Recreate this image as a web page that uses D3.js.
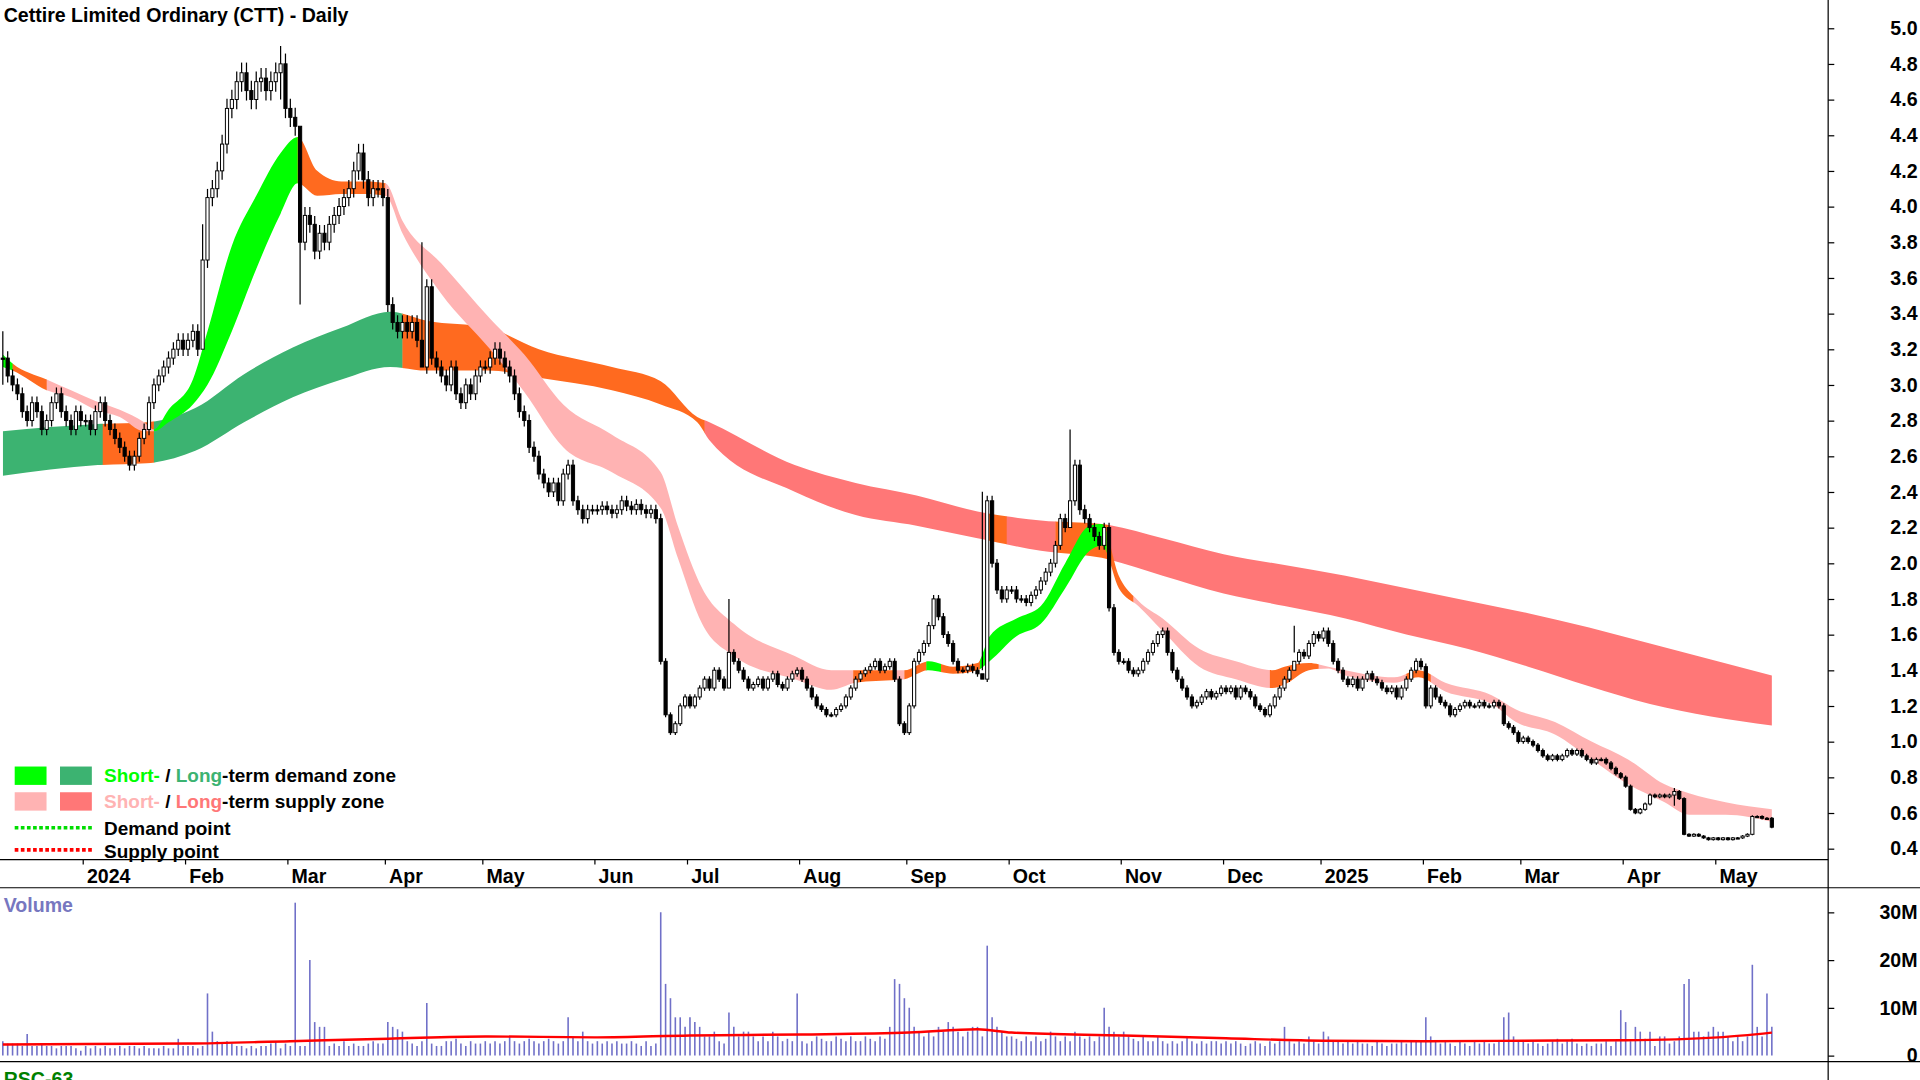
<!DOCTYPE html>
<html><head><meta charset="utf-8">
<script src="https://cdn.jsdelivr.net/npm/d3@7"></script>
<style>html,body{margin:0;padding:0;background:#fff;overflow:hidden}text{font-family:"Liberation Sans",Arial,sans-serif}</style>
</head><body>
<svg id="c" width="1920" height="1080" viewBox="0 0 1568 882"></svg>
<script>
// ---- data ----
const title = "Cettire Limited Ordinary (CTT) - Daily";
const startDate = "2023-12-05";
const holidays = ["2023-12-25","2023-12-26","2024-01-01","2024-01-26","2024-03-29","2024-04-01","2024-04-25","2024-06-10","2024-12-25","2024-12-26","2025-01-01","2025-01-27","2025-04-18","2025-04-21","2025-04-25"];
const monthNames = ["Jan","Feb","Mar","Apr","May","Jun","Jul","Aug","Sep","Oct","Nov","Dec"];
const closes = [
 3.15,3.05,3.0,2.95,2.85,2.8,2.9,2.85,2.75,2.8,2.9,2.95,2.85,2.8,2.75,2.85,2.8,
 2.8,2.75,2.85,2.9,2.8,2.75,2.7,2.65,2.6,2.55,2.6,2.7,2.75,2.9,3.0,3.05,3.1,3.15,3.2,3.25,3.2,
 3.25,3.3,3.2,3.7,4.05,4.1,4.2,4.35,4.55,4.6,4.7,4.75,4.65,4.6,4.7,4.72,4.65,4.7,4.75,4.8,4.55,
 4.5,4.45,3.8,3.95,3.9,3.75,3.85,3.8,3.9,3.95,4.0,4.05,4.1,4.2,4.3,4.15,4.05,4.1,4.1,4.05,
 3.45,3.35,3.3,3.35,3.3,3.35,3.25,3.1,3.55,3.15,3.1,3.05,3.0,3.1,2.95,2.9,3.0,2.95,3.05,3.1,
 3.1,3.15,3.2,3.15,3.1,3.05,2.95,2.85,2.8,2.65,2.6,2.5,2.45,2.4,2.45,2.35,2.5,2.55,2.35,2.3,2.25,2.3,2.3,
 2.3,2.32,2.3,2.28,2.3,2.35,2.32,2.3,2.33,2.3,2.28,2.3,2.25,1.45,1.15,1.05,1.1,1.2,1.25,
 1.2,1.25,1.3,1.35,1.3,1.4,1.35,1.3,1.5,1.45,1.4,1.35,1.3,1.32,1.35,1.3,1.35,1.38,1.32,1.3,1.35,1.38,1.4,
 1.35,1.3,1.25,1.2,1.18,1.15,1.15,1.18,1.2,1.25,1.3,1.35,1.38,1.4,1.42,1.45,1.4,1.42,1.45,1.35,1.1,1.05,
 1.2,1.45,1.5,1.55,1.65,1.8,1.7,1.6,1.55,1.45,1.4,1.4,1.42,1.4,1.38,1.35,2.35,2.0,1.85,1.8,1.85,
 1.85,1.8,1.8,1.78,1.82,1.85,1.9,1.95,2.0,2.1,2.25,2.2,2.35,2.55,2.3,2.25,2.2,2.15,2.1,2.2,1.75,1.5,1.45,
 1.45,1.4,1.38,1.4,1.45,1.5,1.55,1.6,1.62,1.5,1.4,1.35,1.3,1.25,1.2,1.22,1.25,1.28,1.25,1.27,1.3,
 1.28,1.3,1.25,1.3,1.28,1.25,1.2,1.18,1.15,1.2,1.25,1.3,1.35,1.4,1.45,1.5,1.48,1.55,1.6,1.58,
 1.62,1.55,1.45,1.4,1.35,1.32,1.35,1.3,1.35,1.38,1.35,1.33,1.3,1.28,1.3,1.25,1.3,1.35,1.4,1.45,1.42,
 1.2,1.3,1.25,1.22,1.2,1.15,1.18,1.2,1.22,1.2,1.2,1.22,1.2,1.2,1.22,1.2,1.1,1.08,1.05,1.0,
 1.02,1.0,0.98,0.95,0.92,0.9,0.92,0.9,0.92,0.95,0.93,0.95,0.92,0.9,0.88,0.9,0.9,0.88,0.85,0.82,0.8,
 0.75,0.62,0.6,0.62,0.65,0.7,0.69,0.7,0.69,0.7,0.72,0.68,0.48,0.47,0.48,0.47,0.46,0.45,0.46,
 0.45,0.46,0.45,0.46,0.46,0.47,0.48,0.58,0.58,0.57,0.57,0.52];
const wicks = [[0,3.3,3.0],[41,3.9,3.32],[61,4.1,3.45],[57,4.9,4.6],[86,3.8,3.1],[149,1.8,1.3],[201,2.4,1.4],[219,2.75,2.3],[265,1.65,1.5],[343,0.74,0.64]];
const volumes = [
 3,2.5,2.5,2.5,2,4.5,2,2,2.5,2,2,1.5,2,2,2,1.5,1,
 2,1.5,2,1.5,2,1.5,1.5,2,1.5,2,2,1.5,2,1.5,1.5,1.5,2,1.5,1.5,3.5,2,
 2,2,1.5,2,13,5,3,2.5,3,2.5,2,2,1.5,2,1.5,2,2,2.5,3,1.5,2.5,
 2,32,2,2,20,7,6,6,2,2.5,2,3,2,2.5,2,2,2.5,3,2.5,2.5,
 7,6,5.5,5,3,2.5,2,3,11,2.5,2,2,3,3,3.5,2.5,2,3,2.5,2.5,
 3,2.5,3,2.5,3,4,3,2.5,3,3.5,3,2.5,3,3.5,3,2.5,3,8,4,3,5,3,2.5,
 3,2.5,3,2.5,3,2.5,2.5,3,2.5,2,3,2,2.5,30,15,12,8,8,6,
 8,7,6,4,4,5,3,2.5,9,6,4,5,5,4,3,4,3,5,4,3,3.5,3,13,
 3,2.5,3,4,3.5,3,3,4,3.5,3,4,3,3,4,3.5,3,4,3.5,6,16,15,12,
 10,6,5,4,5,4,6,5,7,6,5,4,5,6,6,4,23,8,6,5,4,
 4,3.5,3,4,3,4,3,3.5,5,4,3,4,3,5,4,3.5,4,3,4,10,6,5,4,
 5,4,3.5,3,4,3,3,4,3,2.5,3,2.5,3,4,3,2.5,3,2.5,3,3,2.5,
 3,2.5,3,2.5,2,2.5,3,2.5,2,3,2.5,3,6,3,2.5,3,2.5,4,3,2.5,
 5,4,3,3,2.5,3,2.5,3,2.5,2.5,2,3,2.5,2,2.5,2.5,3,2.5,3,3,3,
 8,4,3,2.5,3,2.5,2,3,2.5,2,3,2.5,3,2.5,2.5,3,8,9,4,3,
 3,2.5,3,2.5,2,2.5,3,3.5,2.5,3,3.5,2.5,2,2.5,2,2.5,2.5,3,2,3,9.5,
 7,3,6,5,3.5,5,2,4,4,2.5,3,4,15,16,5,5,4,5,6,
 5,5,4,3,4,3,4,19,6,4,13,6];
const volMA = [[0,2.3],[17,2.4],[38,2.5],[59,3.0],[79,3.5],[99,4.0],[122,3.8],[141,4.2],[164,4.4],[186,4.8],[200,5.5],[207,4.8],[230,4.2],[251,3.6],[271,3.1],[292,3.0],[312,3.1],[333,3.2],[352,3.8],[363,4.8]];
const shortZone = [[0,3.17,3.10],[2,3.12,3.08],[9,3.03,2.97],[14,2.97,2.93],[19,2.91,2.86],[24,2.86,2.82],[29,2.79,2.74],[31,2.75,2.74],[34,2.86,2.79],[39,3.03,2.89],[42,3.30,3.00],[47,3.78,3.30],[52,4.06,3.65],[57,4.30,3.96],[60.5,4.39,4.13],[64.5,4.20,4.06],[69.5,4.14,4.07],[74.5,4.14,4.07],[78.5,4.13,4.06],[82,3.92,3.85],[90,3.68,3.51],[100,3.37,3.20],[107,3.17,2.96],[115,2.89,2.65],[125,2.72,2.51],[135,2.51,2.31],[138.5,2.21,2.03],[143.5,1.86,1.66],[150,1.66,1.48],[162.5,1.48,1.35],[170,1.40,1.29],[175,1.40,1.33],[185,1.40,1.35],[190,1.45,1.40],[195,1.42,1.38],[200,1.44,1.40],[202.5,1.59,1.45],[208,1.69,1.59],[213,1.76,1.66],[218,2.00,1.86],[223,2.21,2.07],[225.5,2.22,2.10],[229,1.93,1.86],[233,1.79,1.76],[238,1.69,1.62],[245.5,1.52,1.42],[253,1.45,1.35],[260.5,1.40,1.30],[263,1.42,1.32],[268,1.44,1.40],[272,1.42,1.41],[275.5,1.40,1.37],[285.5,1.36,1.33],[290.5,1.40,1.36],[296,1.33,1.28],[305.5,1.26,1.21],[310.5,1.18,1.11],[318.5,1.11,1.04],[326,1.00,0.90],[333.5,0.90,0.76],[341,0.76,0.66],[346,0.71,0.59],[353.5,0.66,0.59],[363,0.62,0.55]];
const longZone = [[0,2.74,2.49],[19.5,2.78,2.55],[29.5,2.79,2.56],[39.5,2.87,2.63],[49.5,3.06,2.79],[59.5,3.21,2.93],[69.5,3.32,3.03],[79.5,3.41,3.10],[87,3.36,3.08],[99.5,3.32,3.08],[110,3.20,3.04],[125,3.10,2.97],[135,3.02,2.89],[142.5,2.82,2.79],[145,2.79,2.69],[162.5,2.55,2.40],[175,2.45,2.27],[187.5,2.38,2.21],[200,2.29,2.14],[213,2.24,2.07],[225.5,2.22,2.03],[238,2.14,1.93],[250.5,2.05,1.83],[263,1.99,1.76],[275.5,1.93,1.69],[288,1.86,1.60],[300.5,1.79,1.52],[313,1.72,1.42],[325.5,1.64,1.31],[338,1.55,1.21],[350.5,1.46,1.14],[363,1.37,1.09]];
const C = {G:"#00ff00",LG:"#3cb371",P:"#ffb3b3",R:"#ff7777",O:"#ff6a1f"};
const longColors = [[0,20.5,"LG"],[20.5,31,"O"],[31,82,"LG"],[82,144,"O"],[144,202,"R"],[202,206,"O"],[206,216,"R"],[216,227,"O"],[227,364,"R"]];
const shortColors = [[0,2,"G"],[2,9,"O"],[9,31,"P"],[31,60.5,"G"],[60.5,78.5,"O"],[78.5,174.5,"P"],[174.5,183,"O"],[183,185,"P"],[185,189.5,"O"],[189.5,192.5,"G"],[192.5,200.5,"O"],[200.5,226.5,"G"],[226.5,232,"O"],[232,260,"P"],[260,270,"O"],[270,288,"P"],[288,293,"O"],[293,364,"P"]];
const priceTicks = d3.range(0.4,5.01,0.2);
const volTicks = [0,10,20,30];

// ---- trading dates ----
const dates=[]; {let d=new Date(startDate+"T00:00:00Z");
 while(dates.length<closes.length){const s=d.toISOString().slice(0,10);const w=d.getUTCDay();
  if(w!==0&&w!==6&&!holidays.includes(s))dates.push(new Date(d));d.setUTCDate(d.getUTCDate()+1);}}

const svg=d3.select("#c");
const R=1493;
const x=d3.scaleLinear().domain([0,363]).range([2.3,1447]);
const y=d3.scaleLinear().domain([0.4,5.0]).range([693,23]);
const yv=d3.scaleLinear().domain([0,30]).range([862,745]);

const defs=svg.append("defs");
function zone(pts,colors,id){
 const area=d3.area().x(d=>x(d[0])).y0(d=>y(d[1])).y1(d=>y(d[2])).curve(d3.curveMonotoneX);
 colors.forEach((c,k)=>{
  const cid=id+k;
  defs.append("clipPath").attr("id",cid).append("rect").attr("x",x(c[0])).attr("y",0).attr("width",x(c[1])-x(c[0])+0.3).attr("height",700);
  svg.append("path").attr("d",area(pts)).attr("fill",C[c[2]]).attr("clip-path",`url(#${cid})`);
 });
}
zone(longZone,longColors,"lz");
zone(shortZone,shortColors,"sz");

const cd=closes.map((c,i)=>{const o=i?closes[i-1]:c;let h=Math.max(o,c)*1.012,l=Math.min(o,c)*0.988;
 const w=wicks.find(v=>v[0]===i); if(w){h=w[1];l=w[2];} return {i,o,c,h,l};});
const g=svg.append("g");
g.selectAll("line.w").data(cd).join("line").attr("x1",d=>x(d.i)).attr("x2",d=>x(d.i)).attr("y1",d=>y(d.h)).attr("y2",d=>y(d.l)).attr("stroke","#000").attr("stroke-width",1);
g.selectAll("rect").data(cd).join("rect").attr("x",d=>x(d.i)-1.3).attr("width",2.6)
 .attr("y",d=>y(Math.max(d.o,d.c))).attr("height",d=>Math.max(1,Math.abs(y(d.o)-y(d.c))))
 .attr("fill",d=>d.c>d.o?"#fff":"#000").attr("stroke","#000").attr("stroke-width",0.8);

svg.append("line").attr("x1",R).attr("x2",R).attr("y1",0).attr("y2",882).attr("stroke","#000");
svg.append("line").attr("x1",0).attr("x2",R).attr("y1",702).attr("y2",702).attr("stroke","#000");
svg.append("line").attr("x1",0).attr("x2",1568).attr("y1",725).attr("y2",725).attr("stroke","#000");
svg.append("line").attr("x1",0).attr("x2",1568).attr("y1",867).attr("y2",867).attr("stroke","#000");

const pa=svg.append("g").attr("transform",`translate(${R},0)`).call(d3.axisRight(y).tickValues(priceTicks).tickSize(5).tickFormat(d3.format(".1f")));
pa.select(".domain").remove();
pa.selectAll("text").attr("x",73).attr("text-anchor","end").attr("font-size",16).attr("font-weight","bold").attr("fill","#000");
const va=svg.append("g").attr("transform",`translate(${R},0)`).call(d3.axisRight(yv).tickValues(volTicks).tickSize(5).tickFormat(d=>d?d+"M":"0"));
va.select(".domain").remove();
va.selectAll("text").attr("x",73).attr("text-anchor","end").attr("font-size",16).attr("font-weight","bold").attr("fill","#000");

const mt=[];dates.forEach((d,i)=>{if(i>0&&d.getUTCMonth()!==dates[i-1].getUTCMonth())mt.push({i,lab:d.getUTCMonth()===0?String(d.getUTCFullYear()):monthNames[d.getUTCMonth()]});});
const mg=svg.append("g").selectAll("g").data(mt).join("g").attr("transform",d=>`translate(${x(d.i)-2},702)`);
mg.append("line").attr("y1",0).attr("y2",4).attr("stroke","#000");
mg.append("text").attr("x",3).attr("y",19).attr("font-size",16).attr("font-weight","bold").text(d=>d.lab);

svg.append("g").selectAll("line").data(volumes).join("line").attr("x1",(d,i)=>x(i)).attr("x2",(d,i)=>x(i)).attr("y1",yv(0)).attr("y2",d=>yv(d)).attr("stroke","#7070c8").attr("stroke-width",1.3);
svg.append("path").attr("d",d3.line().x(d=>x(d[0])).y(d=>yv(d[1])).curve(d3.curveMonotoneX)(volMA)).attr("fill","none").attr("stroke","#ff0000").attr("stroke-width",2);

svg.append("text").attr("x",3).attr("y",18).attr("font-size",16).attr("font-weight","bold").text(title);
svg.append("text").attr("x",3).attr("y",745).attr("font-size",16).attr("font-weight","bold").attr("fill","#7777c0").text("Volume");
svg.append("text").attr("x",3).attr("y",887).attr("font-size",16).attr("font-weight","bold").attr("fill","#008000").text("RSC-63");

const lg=svg.append("g");
[["G",12,626],["LG",49,626],["P",12,647],["R",49,647]].forEach(r=>lg.append("rect").attr("x",r[1]).attr("y",r[2]).attr("width",26).attr("height",15).attr("fill",C[r[0]]));
function ltext(yy,parts){const t=lg.append("text").attr("x",85).attr("y",yy).attr("font-size",15.5).attr("font-weight","bold");parts.forEach(p=>t.append("tspan").attr("fill",p[1]).text(p[0]));}
ltext(639,[["Short-",C.G],[" / ","#000"],["Long",C.LG],["-term demand zone","#000"]]);
ltext(660,[["Short-",C.P],[" / ","#000"],["Long",C.R],["-term supply zone","#000"]]);
ltext(682,[["Demand point","#000"]]);
ltext(701,[["Supply point","#000"]]);
lg.append("line").attr("x1",12).attr("x2",76).attr("y1",676).attr("y2",676).attr("stroke","#00dd00").attr("stroke-width",3).attr("stroke-dasharray","3,2");
lg.append("line").attr("x1",12).attr("x2",76).attr("y1",694).attr("y2",694).attr("stroke","#ff0000").attr("stroke-width",3).attr("stroke-dasharray","3,2");
</script></body></html>
